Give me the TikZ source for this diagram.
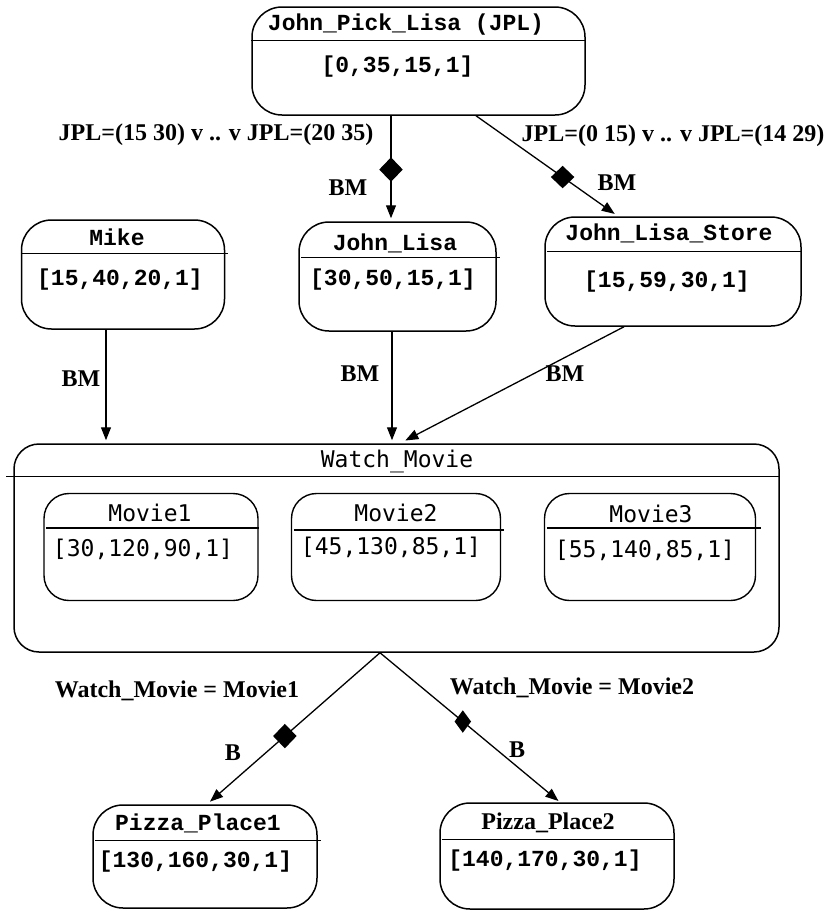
\documentclass[tikz,border=0pt]{standalone}
\usepackage{fontspec}
\setmainfont{Liberation Serif}
\newfontfamily\statefont{Liberation Mono}
\newfontfamily\subfont{DejaVu Sans Mono}
\usepackage{tikz}
\usetikzlibrary{arrows.meta,shapes.geometric,calc}

\begin{document}
\begin{tikzpicture}[
  x=1pt,y=-1pt,
  state/.style={draw,line width=1.5pt,rounded corners=30pt,inner sep=0pt},
  inner/.style={draw,line width=1.4pt,rounded corners=25pt,inner sep=0pt,
                minimum width=#1,minimum height=107pt},
  title/.style={font=\fontsize{23}{26}\selectfont\statefont\bfseries,inner sep=0pt},
  sub/.style={font=\fontsize{23}{26}\selectfont\subfont,inner sep=0pt},
  cond/.style={font=\fontsize{24}{28}\selectfont\bfseries,inner sep=0pt},
  div/.style={line width=1.4pt},
  tr/.style={-{Triangle[length=13pt,width=10pt]},line width=1.3pt},
  guard/.style={diamond,fill=black,inner sep=0pt,minimum width=24pt,minimum height=25pt},
]
\useasboundingbox (0,0) rectangle (826,911);

% states
\node[state,minimum width=333pt,minimum height=108pt] (jpl) at (418.5,61) {};
\node[title] (jpl-n) at (406,25) {John\_Pick\_Lisa (JPL)};
\node[title] (jpl-v) at (397.5,67) {[0,35,15,1]};
\draw[div] ([yshift=-34pt]jpl.north west) -- ([yshift=-34pt]jpl.north east);

\node[state,minimum width=203pt,minimum height=109pt] (mike) at (123,274.5) {};
\node[title] (mike-n) at (117,237) {Mike};
\node[title] (mike-v) at (120,280) {[15,40,20,1]};
\draw[div] ([yshift=-34pt]mike.north west) -- ([xshift=3pt,yshift=-34pt]mike.north east);

\node[state,minimum width=197pt,minimum height=109pt] (jl) at (397.5,276.5) {};
\node[title] (jl-n) at (395,243) {John\_Lisa};
\node[title] (jl-v) at (393,280) {[30,50,15,1]};
\draw[div] ([xshift=3pt,yshift=-36pt]jl.north west) -- ([xshift=3pt,yshift=-36pt]jl.north east);

\node[state,minimum width=256pt,minimum height=109pt] (jls) at (673,271.5) {};
\node[title] (jls-n) at (669,233) {John\_Lisa\_Store};
\node[title] (jls-v) at (667,282) {[15,59,30,1]};
\draw[div] ([xshift=3pt,yshift=-35pt]jls.north west) -- ([yshift=-35pt]jls.north east);

% composite state
\node[state,rounded corners=25pt,minimum width=765pt,minimum height=208pt] (wm) at (396.5,548) {};
\node[sub] (wm-n) at (397,461) {Watch\_Movie};
\draw[div] ([xshift=-7pt,yshift=-33pt]wm.north west) -- ([yshift=-33pt]wm.north east);

\node[inner=214pt] (m1) at (151,547) {};
\node[sub] (m1-n) at (150,513) {Movie1};
\node[sub] (m1-v) at (143,549) {[30,120,90,1]};
\draw[div] ([xshift=3pt,yshift=-35pt]m1.north west) -- ([yshift=-35pt]m1.north east);

\node[inner=209pt] (m2) at (396,547) {};
\node[sub] (m2-n) at (396,513) {Movie2};
\node[sub] (m2-v) at (391,547) {[45,130,85,1]};
\draw[div] ([xshift=3pt,yshift=-37pt]m2.north west) -- ([xshift=3pt,yshift=-37pt]m2.north east);

\node[inner=211pt] (m3) at (650,547) {};
\node[sub] (m3-n) at (651,514) {Movie3};
\node[sub] (m3-v) at (645,550) {[55,140,85,1]};
\draw[div] ([xshift=3pt,yshift=-35pt]m3.north west) -- ([xshift=5pt,yshift=-35pt]m3.north east);

\node[state,minimum width=224pt,minimum height=103pt] (pp1) at (205,856.5) {};
\node[title] (pp1-n) at (198,823) {Pizza\_Place1};
\node[title] (pp1-v) at (195.5,862) {[130,160,30,1]};
\draw[div] ([xshift=3pt,yshift=-36pt]pp1.north west) -- ([xshift=3pt,yshift=-36pt]pp1.north east);

\node[state,minimum width=234pt,minimum height=106pt] (pp2) at (557,856) {};
\node[cond] (pp2-n) at (548,823) {Pizza\_Place2};
\node[title] (pp2-v) at (545,861) {[140,170,30,1]};
\draw[div] ([xshift=3pt,yshift=-37pt]pp2.north west) -- ([yshift=-37pt]pp2.north east);

% transitions
\draw[tr,shorten >=3pt] ([xshift=-27.5pt]jpl.south) -- node[guard,pos=0.51] (g1) {} ([xshift=-6.5pt]jl.north);
\draw[tr,shorten >=4pt] ([xshift=57.5pt]jpl.south) -- node[guard,pos=0.61,minimum height=23pt] (g2) {} ([xshift=-55pt]jls.north);
\draw[tr,shorten >=3pt] ([xshift=-17pt]mike.south) -- ([xshift=-290.5pt]wm.north);
\draw[tr,shorten >=3pt] ([xshift=-5.5pt]jl.south) -- ([xshift=-4.5pt]wm.north);
\draw[tr,shorten >=6pt] ([xshift=-49pt]jls.south) -- ([xshift=3.5pt]wm.north);
\draw[tr,shorten >=4pt] ([xshift=-16.5pt]wm.south) -- node[guard,pos=0.55] (g3) {} ([xshift=2pt]pp1.north);
\draw[tr,shorten >=2pt] ([xshift=-16.5pt]wm.south) -- node[guard,pos=0.46,minimum width=17pt,minimum height=23pt] (g4) {} ([xshift=3pt]pp2.north);

% guards and events
\node[cond] (c1) at (216,135) {JPL=(15 30) v .. v JPL=(20 35)};
\node[cond] (c2) at (673,136) {JPL=(0 15) v .. v JPL=(14 29)};
\node[cond] (e1) at (348,188) {BM};
\node[cond] (e2) at (617,183) {BM};
\node[cond] (e3) at (81,379) {BM};
\node[cond] (e4) at (360,374) {BM};
\node[cond] (e5) at (565,374) {BM};
\node[cond] (c3) at (177,691) {Watch\_Movie = Movie1};
\node[cond] (c4) at (572,688) {Watch\_Movie = Movie2};
\node[cond] (e6) at (233,753) {B};
\node[cond] (e7) at (517,750) {B};
\end{tikzpicture}
\end{document}
